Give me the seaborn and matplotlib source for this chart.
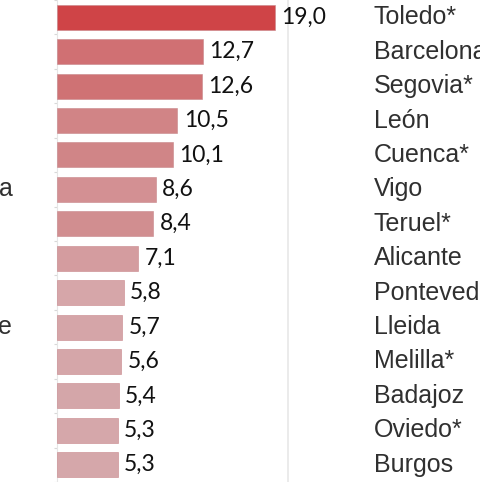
import matplotlib
matplotlib.use("Agg")
import matplotlib.pyplot as plt
import seaborn as sns
import pandas as pd

cities = ["Toledo*", "Barcelona", "Segovia*", "León", "Cuenca*", "Vigo", "Teruel*",
          "Alicante", "Pontevedra", "Lleida", "Melilla*", "Badajoz", "Oviedo*", "Burgos"]
values = [19.0, 12.7, 12.6, 10.5, 10.1, 8.6, 8.4, 7.1, 5.8, 5.7, 5.6, 5.4, 5.3, 5.3]
colors = ["#CF4447", "#D07073", "#CF7274", "#D18486", "#D08587", "#D39093", "#D18E90",
          "#D49C9F", "#D6A6A9", "#D5A5A8", "#D5A6A9", "#D4A6A9", "#D5A7AA", "#D5A7AA"]
left_fragments = [("a", "Vigo"), ("fe", "Lleida")]

df = pd.DataFrame({"city": cities, "value": values})

sns.set_theme(style="white")
W, H = 481, 482
fig = plt.figure(figsize=(W / 100, H / 100), dpi=100)
x0 = 57
ax = fig.add_axes([x0 / W, 0, (W - x0) / W, 1])

sns.barplot(data=df, x="value", y="city", hue="city", palette=colors, legend=False,
            orient="h", width=0.73, saturation=1, ax=ax, zorder=3,
            edgecolor="#C8868A", linewidth=0.4)

px_per_unit = 11.47
ax.set_xlim(0, (W - x0) / px_per_unit)
ax.set_ylim(len(cities) - 0.5, -0.5)

# gridline at 20
ax.set_xticks([20.1])
ax.xaxis.grid(True, color="#E8E8E8", linewidth=1.2, zorder=0)
ax.tick_params(axis="x", length=0, labelbottom=False)

ax.set_yticks([i - 0.5 for i in range(len(cities) + 1)])
ax.set_yticklabels([])
ax.tick_params(axis="y", length=2.5, width=0.8, color="#D8D8D8", direction="out", left=True)
for s in ["top", "right", "bottom"]:
    ax.spines[s].set_visible(False)
ax.spines["left"].set_color("#E6E6E6")
ax.spines["left"].set_linewidth(0.8)
ax.set_xlabel("")
ax.set_ylabel("")

for cont in ax.containers:
    labs = [f"{v:.1f}".replace(".", ",") for v in cont.datavalues]
    ax.bar_label(cont, labels=labs, padding=4.5, fontsize=16.5, family="Lato", color="#111111")

label_x = (374 - x0) / px_per_unit
for i, c in enumerate(cities):
    ax.text(label_x, i, c, ha="left", va="center", fontsize=18,
            family="Liberation Sans", color="#303030", clip_on=False)

for frag, row in left_fragments:
    i = cities.index(row)
    y_fig = 1 - (i + 0.5) / len(cities)
    fig.text(12.5 / W, y_fig, frag, ha="right", va="center", fontsize=18,
             family="Liberation Sans", color="#303030")

fig.savefig("out.png", dpi=100)
